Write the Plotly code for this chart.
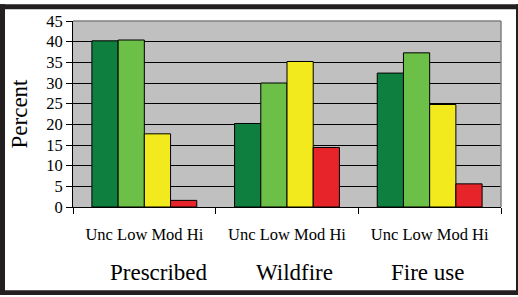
import plotly.graph_objects as go

groups = ["Prescribed", "Wildfire", "Fire use"]
severity = ["Unc", "Low", "Mod", "Hi"]
values = {
    "Unc": [40.2, 20.2, 32.4],
    "Low": [40.4, 30.0, 37.3],
    "Mod": [17.7, 35.2, 24.8],
    "Hi": [1.6, 14.4, 5.6],
}
colors = {"Unc": "#0e7f3f", "Low": "#6cbf47", "Mod": "#f3ea1d", "Hi": "#e72429"}
sub_label = " ".join(severity)

W, H = 518, 297
L, R, T, B = 73, 17, 17, 90
pw, ph = W - L - R, H - T - B


def px_x(x):
    return (x - L) / pw


def px_y(y):
    return (H - B - y) / ph


fig = go.Figure()
for s in severity:
    fig.add_trace(go.Bar(
        x=groups, y=values[s], name=s,
        marker=dict(color=colors[s], line=dict(color="black", width=1)),
    ))

dark = "#231f20"
shapes = []
# outer dark frame
for x0, y0, x1, y1 in [(0, 0, W, 5), (0, 292, W, H), (0, 0, 5, H), (516, 0, W, H)]:
    shapes.append(dict(type="rect", xref="paper", yref="paper",
                       x0=px_x(x0), x1=px_x(x1), y0=px_y(y0), y1=px_y(y1),
                       fillcolor=dark, line=dict(width=0), layer="above"))
# grey top/right plot border
shapes.append(dict(type="line", xref="paper", yref="paper", x0=0, x1=1, y0=1, y1=1,
                   line=dict(color="#808080", width=1.5), layer="above"))
shapes.append(dict(type="line", xref="paper", yref="paper", x0=1, x1=1, y0=0, y1=1,
                   line=dict(color="#808080", width=1.5), layer="above"))

font = "Liberation Serif"
label_shift = [15, 7, -2]
annotations = [
    dict(x=g, y=0, xref="x", yref="paper", yshift=-65, xshift=sh, text=g, showarrow=False,
         font=dict(family=font, size=23, color="black"), yanchor="middle")
    for g, sh in zip(groups, label_shift)
]

fig.update_layout(
    width=W, height=H,
    margin=dict(l=L, r=R, t=T, b=B),
    paper_bgcolor="white",
    plot_bgcolor="#c0c0c0",
    barmode="group",
    bargap=0.265,
    bargroupgap=0,
    showlegend=False,
    font=dict(family=font, color="black", size=16.5),
    shapes=shapes,
    annotations=annotations,
    xaxis=dict(
        tickmode="array", tickvals=groups, ticktext=[sub_label] * len(groups),
        tickson="boundaries", ticks="outside", ticklen=6, tickcolor="black",
        showline=True, linecolor="black", linewidth=1,
        ticklabelstandoff=12, showgrid=False,
    ),
    yaxis=dict(
        range=[0, 45], dtick=5, tick0=0,
        ticks="outside", ticklen=6, tickcolor="black",
        showline=True, linecolor="black", linewidth=1,
        showgrid=True, gridcolor="black", gridwidth=1,
        zeroline=False,
        title=dict(text="Percent", font=dict(size=23), standoff=12),
    ),
)

fig.write_html(
    "out.html",
    config={"displayModeBar": False},
    post_script="document.body.style.margin='0';document.body.style.overflow='hidden';",
)
